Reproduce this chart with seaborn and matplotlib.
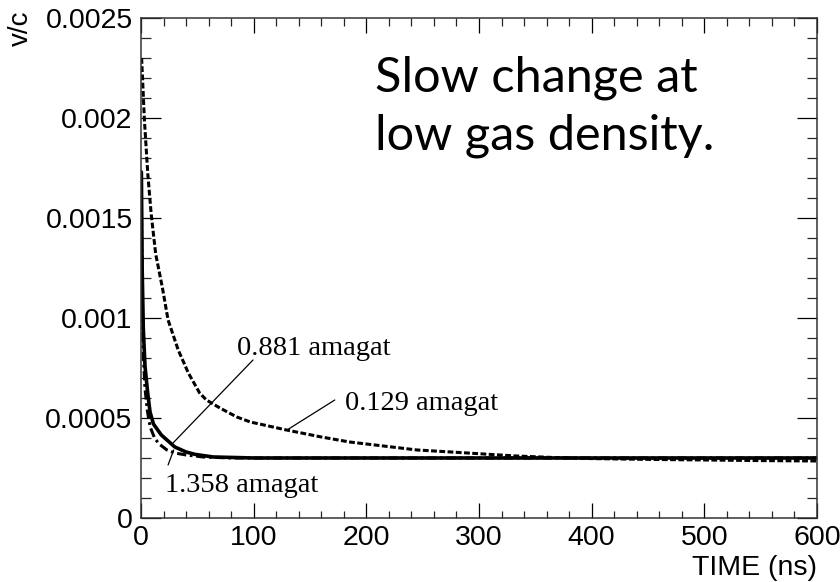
import matplotlib
matplotlib.use("Agg")
import matplotlib.pyplot as plt
from matplotlib.ticker import MultipleLocator, FixedFormatter, FixedLocator
import seaborn as sns

# Electron drift velocity (v/c) versus time for three gas densities
t_0129 = [0.5, 3, 6, 9, 13, 19, 24, 33, 42, 52, 58, 70, 85, 97, 129, 160, 185,
          215, 245, 275, 304, 333, 363, 400, 450, 500, 550, 600]
v_0129 = [0.00230, 0.00199, 0.00172, 0.00152, 0.00132, 0.00115, 0.00099, 0.00084,
          0.000725, 0.000625, 0.00059, 0.00055, 0.000505, 0.00048, 0.00044, 0.000405,
          0.00038, 0.00036, 0.00034, 0.00033, 0.00032, 0.00031, 0.000303, 0.000297,
          0.000293, 0.00029, 0.000287, 0.000285]

t_0881 = [0.3, 1, 2, 3.5, 6, 8, 11, 18, 23, 30, 40, 48, 64, 100, 200, 300, 400, 500, 600]
v_0881 = [0.00173, 0.00125, 0.00095, 0.00076, 0.00062, 0.00053, 0.00047, 0.000415,
          0.00039, 0.000355, 0.00033, 0.000318, 0.000305, 0.0003, 0.0003, 0.0003,
          0.0003, 0.0003, 0.0003]

t_1358 = [0.3, 1, 2, 3.5, 5.5, 8, 12, 16, 23, 30, 40, 55, 80, 100, 200, 300, 400, 500, 600]
v_1358 = [0.0016, 0.0011, 0.00082, 0.00065, 0.00054, 0.000457, 0.0004, 0.00037,
          0.00034, 0.000325, 0.000315, 0.000305, 0.0003, 0.0003, 0.0003, 0.0003,
          0.0003, 0.0003, 0.0003]

labels = ["0.129 amagat", "0.881 amagat", "1.358 amagat"]

x_ticks = [0, 100, 200, 300, 400, 500, 600]
y_ticks = [0, 0.0005, 0.001, 0.0015, 0.002, 0.0025]
y_tick_labels = ["0", "0.0005", "0.001", "0.0015", "0.002", "0.0025"]

sns.set_theme(style="ticks")
plt.rcParams["font.family"] = ["Liberation Sans", "DejaVu Sans"]
plt.rcParams["text.color"] = "black"
plt.rcParams["axes.labelcolor"] = "black"

fig = plt.figure(figsize=(8.4, 5.82), dpi=100)
ax = fig.add_axes([0.1679, 0.1100, 0.8047, 0.8591])

sns.lineplot(x=t_0129, y=v_0129, ax=ax, color="black", lw=2.2,
             linestyle=(0, (1.9, 0.8)), sort=False)
sns.lineplot(x=t_0881, y=v_0881, ax=ax, color="black", lw=2.6,
             linestyle="-", sort=False)
sns.lineplot(x=t_1358, y=v_1358, ax=ax, color="black", lw=2.2,
             linestyle=(0, (3.0, 1.2, 0.9, 1.2)), sort=False)

ax.set_xlim(0, 600)
ax.set_ylim(0, 0.0025)

# ROOT-like frame: ticks inside on all four sides
ax.xaxis.set_major_locator(FixedLocator(x_ticks))
ax.xaxis.set_minor_locator(MultipleLocator(20))
ax.yaxis.set_major_locator(FixedLocator(y_ticks))
ax.yaxis.set_major_formatter(FixedFormatter(y_tick_labels))
ax.yaxis.set_minor_locator(MultipleLocator(0.0001))
ax.tick_params(axis="x", which="major", direction="in", length=10.8, width=0.9,
               top=True, labelsize=20.5, pad=5, colors="black")
ax.tick_params(axis="x", which="minor", direction="in", length=5.4, width=0.9, top=True)
ax.tick_params(axis="y", which="major", direction="in", length=14.4, width=0.9,
               right=True, labelsize=20.5, pad=6, colors="black")
ax.tick_params(axis="y", which="minor", direction="in", length=7.2, width=0.9, right=True)
for s in ax.spines.values():
    s.set_visible(True)
    s.set_color("#333333")
    s.set_linewidth(1.1)

ax.set_xlabel("TIME (ns)", fontsize=20.5, ha="right", color="black")
ax.xaxis.set_label_coords(1.0, -0.075)
ax.set_ylabel("v/c", fontsize=20, ha="right", color="black")
ax.yaxis.set_label_coords(-0.158, 1.015)

# Density labels with leader lines
serif = ["Liberation Serif", "DejaVu Serif"]
ax.text(85.2, 0.000815, labels[1], family=serif, fontsize=20.5, ha="left",
        va="baseline", color="black")
ax.plot([99.4, 28.4], [0.00079, 0.000375], color="black", lw=0.9)
ax.text(181, 0.00054, labels[0], family=serif, fontsize=20.5, ha="left",
        va="baseline", color="black")
ax.plot([172, 129.6], [0.00059, 0.00044], color="black", lw=0.9)
ax.text(21.3, 0.00013, labels[2], family=serif, fontsize=20.5, ha="left",
        va="baseline", color="black")
ax.plot([24, 29], [0.000265, 0.00034], color="black", lw=0.9)

note_font = ["Lato", "DejaVu Sans"]
fig.text(375 / 840, 1 - 92 / 582, "Slow change at", family=note_font,
         fontsize=35, ha="left", va="baseline", color="black")
fig.text(375 / 840, 1 - 150 / 582, "low gas density.", family=note_font,
         fontsize=35, ha="left", va="baseline", color="black")

fig.savefig("out.png", dpi=100)
